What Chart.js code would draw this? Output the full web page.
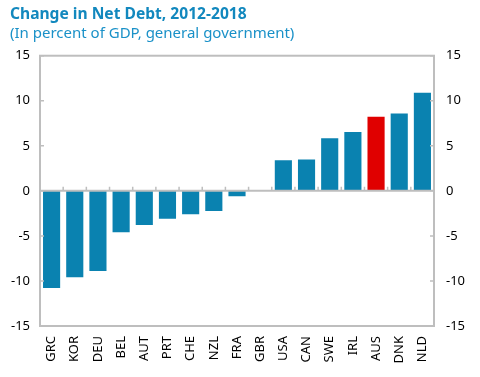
<!DOCTYPE html>
<html>
<head>
<meta charset="utf-8">
<script src="https://cdn.jsdelivr.net/npm/chart.js@4/dist/chart.umd.min.js"></script>
<style>
  html, body { margin: 0; padding: 0; background: #fff; }
  #wrap { width: 480px; height: 377px; position: relative; }
</style>
</head>
<body>
<div id="wrap"><canvas id="debtChart"></canvas></div>
<script>
// ข้อมูลของกราฟ
const countries = ['GRC', 'KOR', 'DEU', 'BEL', 'AUT', 'PRT', 'CHE', 'NZL', 'FRA', 'GBR', 'USA', 'CAN', 'SWE', 'IRL', 'AUS', 'DNK', 'NLD'];
const netDebtChange = [-10.9, -9.7, -9.0, -4.7, -3.9, -3.2, -2.7, -2.35, -0.7, 0, 3.5, 3.6, 5.95, 6.65, 8.35, 8.7, 11.0];
const highlighted = 'AUS';
const yTicks = [-15, -10, -5, 0, 5, 10, 15];

const BLUE = '#0A82B0';
const RED = '#E00000';
const FRAME = '#BEBEBE';

// กรอบ, เส้นศูนย์ และขีดสเกล
const framePlugin = {
  id: 'frame',
  afterDatasetsDraw(chart) {
    const { ctx, chartArea: a, scales } = chart;
    const y = scales.y;
    const x = scales.x;
    const zero = y.getPixelForValue(0);
    ctx.save();
    ctx.strokeStyle = FRAME;
    ctx.lineWidth = 2;
    ctx.strokeRect(a.left, a.top, a.right - a.left, a.bottom - a.top);
    ctx.beginPath();
    ctx.moveTo(a.left, zero);
    ctx.lineTo(a.right, zero);
    ctx.stroke();
    ctx.lineWidth = 1.5;
    ctx.beginPath();
    yTicks.forEach((v) => {
      const py = y.getPixelForValue(v);
      ctx.moveTo(a.left, py);
      ctx.lineTo(a.left + 4, py);
      ctx.moveTo(a.right, py);
      ctx.lineTo(a.right - 4, py);
    });
    // ขีดแบ่งหมวดบนเส้นศูนย์
    for (let i = 1; i < countries.length; i++) {
      const px = (x.getPixelForValue(i - 1) + x.getPixelForValue(i)) / 2;
      ctx.moveTo(px, zero);
      ctx.lineTo(px, zero - 4);
    }
    ctx.stroke();
    ctx.restore();
  },
};

const tickFont = { family: "'Noto Sans', 'DejaVu Sans', sans-serif", size: 13 };

new Chart(document.getElementById('debtChart'), {
  type: 'bar',
  data: {
    labels: countries,
    datasets: [
      {
        data: netDebtChange,
        backgroundColor: countries.map((c) => (c === highlighted ? RED : BLUE)),
        borderColor: '#ffffff',
        borderWidth: 1,
        barPercentage: 0.86,
        categoryPercentage: 0.96,
      },
    ],
  },
  options: {
    responsive: true,
    maintainAspectRatio: false,
    animation: false,
    layout: { padding: { left: 10, right: 0, top: 0, bottom: 0 } },
    plugins: {
      legend: { display: false },
      tooltip: { enabled: false },
      title: {
        display: true,
        align: 'start',
        text: 'Change in Net Debt, 2012-2018',
        color: '#1288BE',
        font: { family: "'Noto Sans', sans-serif", size: 15.6, weight: 'bold' },
        padding: { top: 5, bottom: 1 },
      },
      subtitle: {
        display: true,
        align: 'start',
        text: '(In percent of GDP, general government)',
        color: '#1A91C8',
        font: { family: "'Noto Sans', sans-serif", size: 15 },
        padding: { top: 0, bottom: 13 },
      },
    },
    scales: {
      x: {
        grid: { display: false, drawTicks: false },
        border: { display: false },
        ticks: {
          color: '#000',
          font: tickFont,
          maxRotation: 90,
          minRotation: 90,
          padding: 10,
          autoSkip: false,
        },
        afterFit: (s) => { s.height = 51; },
      },
      y: {
        position: 'left',
        min: -15,
        max: 15,
        grid: { display: false, drawTicks: false },
        border: { display: false },
        ticks: { stepSize: 5, color: '#000', font: tickFont, padding: 10 },
        afterFit: (s) => { s.width = 30; },
      },
      y2: {
        position: 'right',
        min: -15,
        max: 15,
        grid: { display: false, drawTicks: false },
        border: { display: false },
        ticks: { stepSize: 5, color: '#000', font: tickFont, padding: 12 },
        afterFit: (s) => { s.width = 46; },
      },
    },
  },
  plugins: [framePlugin],
});
</script>
</body>
</html>
